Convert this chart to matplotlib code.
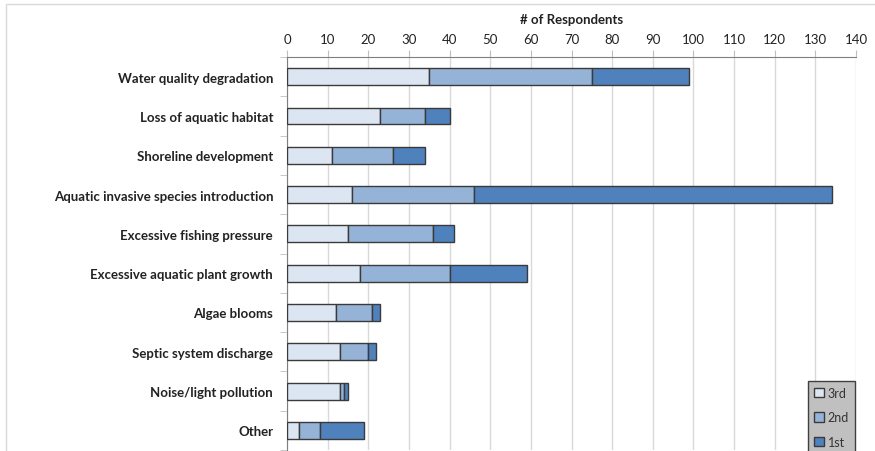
import matplotlib
matplotlib.use("Agg")
import matplotlib.pyplot as plt
from matplotlib.patches import Rectangle
import numpy as np

plt.rcParams['font.family'] = ['Lato', 'DejaVu Sans']

categories = [
    "Water quality degradation",
    "Loss of aquatic habitat",
    "Shoreline development",
    "Aquatic invasive species introduction",
    "Excessive fishing pressure",
    "Excessive aquatic plant growth",
    "Algae blooms",
    "Septic system discharge",
    "Noise/light pollution",
    "Other",
]
third = [35, 23, 11, 16, 15, 18, 12, 13, 13, 3]
second = [40, 11, 15, 30, 21, 22, 9, 7, 1, 5]
first = [24, 6, 8, 88, 5, 19, 2, 2, 1, 11]
series_names = ["3rd", "2nd", "1st"]
colors = ["#dce6f2", "#95b3d7", "#4f81bd"]
xticks = list(range(0, 141, 10))

fig = plt.figure(figsize=(8.75, 4.52), dpi=100)
# outer chart frame
fig.patches.append(Rectangle((6 / 875, -0.05), 1.0, 1 - 5 / 452 + 0.05,
                             transform=fig.transFigure, fill=False,
                             edgecolor="#d9d9d9", linewidth=1.0))

ax = fig.add_axes([287 / 875, 0.0022, (856 - 287) / 875, (451 - 58) / 452])
y = np.arange(len(categories))
left = np.zeros(len(categories))
handles = []
for vals, name, c in zip([third, second, first], series_names, colors):
    h = ax.barh(y, vals, left=left, height=0.43, color=c, edgecolor="#3a3a3a",
                linewidth=1.0, label=name, zorder=3)
    handles.append(h)
    left += np.array(vals)

ax.set_ylim(len(categories) - 0.5, -0.5)
ax.set_xlim(0, 140)
ax.xaxis.tick_top()
ax.xaxis.set_label_position("top")
ax.set_xticks(xticks)
ax.set_xticklabels([str(t) for t in xticks], fontsize=9.5, color="#222222")
ax.set_xlabel("# of Respondents", fontsize=9.5, fontweight="bold", labelpad=7,
              color="#222222")
ax.tick_params(axis="x", direction="out", length=5, color="#bfbfbf", pad=4)

ax.set_yticks(y)
ax.set_yticklabels(categories, fontsize=9.5, fontweight="bold", color="#222222")
ax.tick_params(axis="y", length=0, pad=10)
ax.set_yticks(np.arange(-0.5, len(categories), 1.0), minor=True)
ax.tick_params(axis="y", which="minor", direction="out", length=5, color="#bfbfbf")

ax.grid(axis="x", color="#d9d9d9", linewidth=1.0, zorder=0)
for s in ["right", "bottom"]:
    ax.spines[s].set_visible(False)
ax.spines["top"].set_color("#7f7f7f")
ax.spines["left"].set_color("#7f7f7f")

leg = ax.legend(handles=handles, loc="lower right", bbox_to_anchor=(1.005, -0.02),
                fontsize=9, frameon=True, fancybox=False, handlelength=0.8,
                handleheight=0.8, handletextpad=0.25, labelspacing=1.0,
                borderpad=0.5, borderaxespad=0.3)
leg.get_frame().set_facecolor("#c0c0c0")
leg.get_frame().set_edgecolor("#404040")
leg.get_frame().set_alpha(1)
for t in leg.get_texts():
    t.set_color("#333333")

fig.savefig("out.png", dpi=100)
